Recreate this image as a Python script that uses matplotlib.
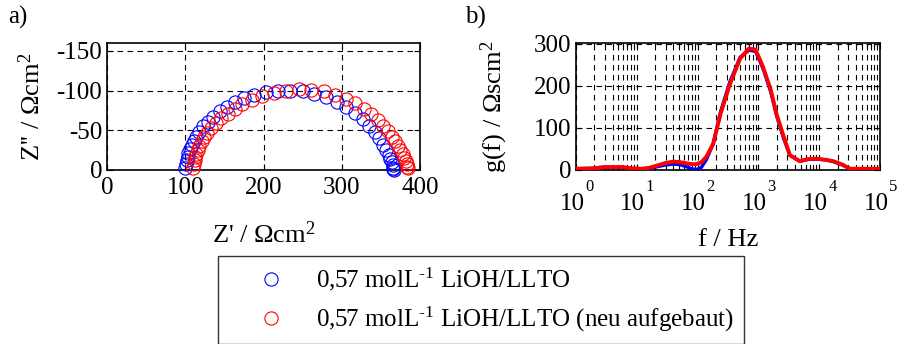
import matplotlib
matplotlib.use("Agg")
import matplotlib.pyplot as plt
from matplotlib.lines import Line2D
from matplotlib.ticker import LogLocator, NullFormatter

plt.rcParams['font.family'] = ['Liberation Serif', 'DejaVu Serif']
plt.rcParams['mathtext.fontset'] = 'custom'
plt.rcParams['mathtext.rm'] = 'Liberation Serif'
plt.rcParams['mathtext.it'] = 'Liberation Serif:italic'
plt.rcParams['axes.unicode_minus'] = False
FS = 18

# ---- data: Nyquist (panel a) ----
blue_zre = [100, 101, 102, 103, 104, 106, 108, 111, 114, 118, 123, 129, 136, 144, 153, 163,
            175, 188, 203, 218, 234, 250, 265, 280, 294, 306, 317, 327, 335, 342, 348, 353,
            357, 360, 362, 364, 365, 366, 366, 367]
blue_zim = [-3, -8, -13, -17, -21, -26, -31, -37, -42, -48, -55, -61, -67, -74, -80, -86,
            -91, -95, -98, -100, -100, -99, -96, -92, -86, -80, -72, -64, -56, -48, -40, -32,
            -25, -19, -14, -10, -6, -3, -1, 0]
red_zre = [110, 111, 112, 113, 114, 116, 118, 121, 124, 128, 133, 139, 146, 154, 163, 173,
           185, 198, 213, 229, 245, 261, 277, 292, 305, 317, 328, 338, 346, 353, 359, 364,
           368, 372, 375, 378, 380, 382, 383, 384, 385]
red_zim = [-2, -7, -12, -16, -20, -25, -30, -36, -41, -47, -53, -59, -65, -71, -77, -83,
           -88, -93, -97, -100, -102, -101, -99, -95, -90, -84, -77, -70, -63, -56, -49, -42,
           -36, -30, -25, -20, -15, -11, -7, -4, -2]

# ---- data: DRT (panel b) ----
blue_f = [1, 2, 2.8, 4, 6, 8, 12, 16, 22, 30, 40, 50, 65, 80, 95, 115, 140, 180, 240, 340,
          500, 700, 900, 1200, 1600, 2000, 2600, 3300, 4800, 6500, 9100, 13000, 17000, 24000,
          32000, 45000, 100000]
blue_g = [3, 4, 6, 6, 6, 3, 3, 4, 8, 12, 14, 13, 8, 3, 1, 6, 25, 62, 140, 210,
          268, 285, 282, 240, 185, 128, 75, 35, 21, 25, 26, 24, 20, 12,
          3, 3, 3]
red_f = blue_f
red_g = [3, 4, 7, 7, 7, 4, 3, 5, 11, 17, 20, 19, 16, 14, 14, 18, 32, 62, 135, 204,
         265, 289, 286, 244, 190, 132, 80, 35, 21, 26, 27, 24, 21, 13,
         3, 3, 3]

decades = [0, 1, 2, 3, 4, 5]
labels = ['0,57 molL$^{\u20101}$ LiOH/LLTO', '0,57 molL$^{\u20101}$ LiOH/LLTO (neu aufgebaut)']

W, H = 897, 344
fig = plt.figure(figsize=(W / 100, H / 100), dpi=100)

def ax_rect(x0, y0, x1, y1):
    return [x0 / W, 1 - y1 / H, (x1 - x0) / W, (y1 - y0) / H]

dash = (0, (5, 4))

# panel a
ax1 = fig.add_axes(ax_rect(107, 43, 420, 170))
ax1.plot(blue_zre, blue_zim, 'o', mfc='none', mec='blue', ms=9.5, mew=0.8, clip_on=False, zorder=3)
ax1.plot(red_zre, red_zim, 'o', mfc='none', mec='red', ms=9.5, mew=0.8, clip_on=False, zorder=3)
ax1.set_xlim(0, 400)
ax1.set_ylim(0, -160)
ax1.set_xticks([0, 100, 200, 300, 400])
ax1.set_yticks([0, -50, -100, -150])
ax1.grid(True, color='black', linestyle=dash, linewidth=0.8)
ax1.set_xlabel("Z' / $\\Omega$cm$^2$", fontsize=FS + 1, labelpad=16)
ax1.set_ylabel("Z'' / $\\Omega$cm$^2$", fontsize=FS + 1, labelpad=8)
ax1.tick_params(direction='in', top=True, right=True, labelsize=FS, length=4, width=0.8)
ax1.tick_params(axis='x', pad=5)
for s in ax1.spines.values():
    s.set_linewidth(1.2)

# panel b
ax2 = fig.add_axes(ax_rect(576, 43, 880, 170))
ax2.plot(blue_f, blue_g, color='blue', lw=2.4, zorder=3)
ax2.plot(red_f, red_g, color='red', lw=2.8, zorder=4)
ax2.set_xscale('log')
ax2.set_xlim(1, 1e5)
ax2.set_ylim(0, 302)
ax2.set_yticks([0, 100, 200, 300])
ax2.set_xticks([10.0 ** d for d in decades])
ax2.set_xticklabels([''] * len(decades))
for d in decades:
    ax2.annotate('10', xy=(10.0 ** d, 0), xycoords=('data', 'axes fraction'),
                 xytext=(-4, -40), textcoords='offset pixels', fontsize=FS,
                 ha='center', va='baseline', annotation_clip=False)
    ax2.annotate(str(d), xy=(10.0 ** d, 0), xycoords=('data', 'axes fraction'),
                 xytext=(9, -21), textcoords='offset pixels', fontsize=12,
                 ha='left', va='baseline', annotation_clip=False)
ax2.xaxis.set_minor_locator(LogLocator(base=10, subs=range(2, 10), numticks=20))
ax2.xaxis.set_minor_formatter(NullFormatter())
ax2.grid(True, which='both', axis='x', color='black', linestyle=dash, linewidth=0.8)
ax2.grid(True, which='major', axis='y', color='black', linestyle=dash, linewidth=0.8)
ax2.set_xlabel("f / Hz", fontsize=FS + 1, labelpad=39)
ax2.set_ylabel("g(f) / $\\Omega$scm$^2$", fontsize=FS + 1, labelpad=17)
ax2.tick_params(which='both', direction='in', top=True, right=True, labelsize=FS, width=0.8)
ax2.tick_params(which='major', length=4)
ax2.tick_params(which='minor', length=2.5)
for s in ax2.spines.values():
    s.set_linewidth(1.2)

fig.text(8 / W, 1 - 24 / H, 'a)', fontsize=FS)
fig.text(465 / W, 1 - 24 / H, 'b)', fontsize=FS)

handles = [Line2D([], [], ls='none', marker='o', mfc='none', mec='blue', ms=9.5, mew=0.8),
           Line2D([], [], ls='none', marker='o', mfc='none', mec='red', ms=9.5, mew=0.8)]
leg = fig.legend(handles, labels, loc='upper left', bbox_to_anchor=(218 / W, 1 - 256 / H),
                 fontsize=18, frameon=True, fancybox=False, edgecolor='black',
                 handlelength=3.4, handletextpad=0.1, borderpad=0.4, labelspacing=0.45,
                 borderaxespad=0)
leg.get_frame().set_linewidth(1.0)

fig.savefig('out.png', dpi=100)
